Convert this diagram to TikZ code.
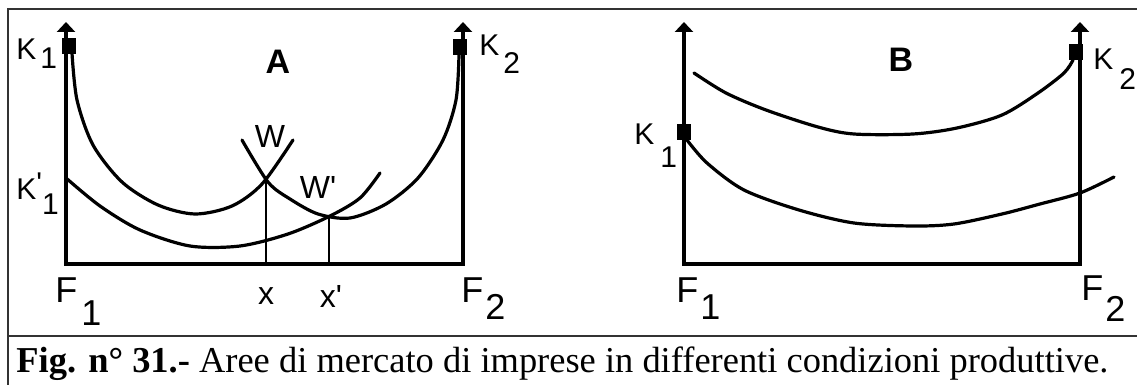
\documentclass[tikz,border=0pt]{standalone}
\usepackage{fontspec}
\setmainfont{Liberation Serif}
\newfontfamily\lblfont{Liberation Sans}
\usepackage{tikz}
\usetikzlibrary{arrows.meta,intersections}
\newcommand{\lowsub}[2][-0.6em]{\raisebox{#1}{#2}}

\begin{document}
\begin{tikzpicture}[x=0.5pt,y=-0.5pt,
  ax/.style={line width=2pt,line join=miter,{Triangle[width=9pt,length=5pt]}-{Triangle[width=9pt,length=5pt]}},
  crv/.style={line width=1.6pt,line cap=round},
  thin/.style={line width=1pt},
  frm/.style={line width=1pt,black!80},
  sq/.style={fill=black,inner sep=0pt,minimum width=7pt,minimum height=8pt},
  klbl/.style={font=\lblfont\fontsize{15}{15}\selectfont,inner sep=0pt,anchor=base west},
  flbl/.style={font=\lblfont\fontsize{18}{18}\selectfont,inner sep=0pt,anchor=base west},
  ttl/.style={font=\lblfont\bfseries\fontsize{17}{17}\selectfont,inner sep=0pt},
  plbl/.style={font=\lblfont\fontsize{16}{16}\selectfont,inner sep=0pt}]
\useasboundingbox (0,0) rectangle (1137,385);
\draw[frm] (1137,9) -- (8,9) -- (8,385);
\draw[frm] (8,336) -- (1137,336);
% axes
\coordinate (ta1) at (66,22);  \coordinate (oa1) at (66,264);
\coordinate (ta2) at (463,22); \coordinate (oa2) at (463,264);
\coordinate (tb1) at (684,22); \coordinate (ob1) at (684,264);
\coordinate (tb2) at (1080,22);\coordinate (ob2) at (1080,264);
\foreach \p in {a,b}{\draw[ax] (t\p1) -- (o\p1) -- (o\p2) -- (t\p2);}
% panel A
\draw[crv,name path=lbA] plot[smooth] coordinates {(72,53) (77,100) (93,145) (122,182) (158,205) (195,214) (232,206) (262,184) (293,140)};
\draw[crv,name path=rbA] plot[smooth] coordinates {(459,55) (456,100) (443,140) (418,178) (386,204) (350,218) (318,214) (290,199) (268,182) (242,140)};
\draw[crv,name path=loA] plot[smooth] coordinates {(66,178) (100,206) (140,230) (190,246) (240,246) (288,234) (330,216) (360,198) (380,173)};
\path[name intersections={of=lbA and rbA,by=wA}];
\path[name intersections={of=loA and rbA,by=wpA}];
\draw[thin] (wA) -- (wA |- oa1);
\draw[thin] (wpA) -- (wpA |- oa1);
\node[sq] (k1a) at (69,46) {};
\node[sq] (k2a) at (460,47) {};
\node[klbl] (lk1a) at (16,60) {K\kern2pt\lowsub[-0.3em]{1}};
\node[klbl] (lk1pa) at (16,200) {K\raisebox{0.2em}{'}\lowsub[-0.5em]{1}};
\node[klbl] (lk2a) at (479,56) {K\kern2pt\lowsub[-0.6em]{2}};
\node[flbl] (lf1a) at (55,302) {F\kern2pt\lowsub[-0.64em]{1}};
\node[flbl] (lf2a) at (461,302) {F\kern1pt\lowsub[-0.5em]{2}};
\node[ttl] (ta) at (278,62) {A};
\node[plbl] (lw) at (270,136) {W};
\node[plbl] (lwp) at (318,187) {W'};
\node[plbl] (lx) at (266,296) {x};
\node[plbl] (lxp) at (331,296) {x'};
% panel B
\draw[crv] plot[smooth] coordinates {(694,73) (726,93) (766,110) (818,127) (854,134) (913,134) (957,128) (1002,115) (1038,93) (1064,73) (1073,60)};
\draw[crv] plot[smooth] coordinates {(687,140) (707,163) (744,190) (799,210) (854,223) (913,226) (954,224) (1002,214) (1040,204) (1080,193) (1114,177)};
\node[sq] (k1b) at (684,132) {};
\node[sq] (k2b) at (1076,52) {};
\node[klbl] (lk1b) at (634,145) {K\kern3pt\lowsub[-0.75em]{1}};
\node[klbl] (lk2b) at (1093,70) {K\kern3pt\lowsub[-0.65em]{2}};
\node[flbl] (lf1b) at (676,302) {F\kern1pt\lowsub[-0.5em]{1}};
\node[flbl] (lf2b) at (1081,300) {F\kern1pt\lowsub[-0.6em]{2}};
\node[ttl] (tb) at (901,60) {B};
% caption
\node[inner sep=0pt,anchor=base west] (cap) at (16,372) {\resizebox{546pt}{!}{\fontsize{15}{15}\selectfont\textbf{Fig. n° 31.-} Aree di mercato di imprese in differenti condizioni produttive.}};
\end{tikzpicture}
\end{document}
